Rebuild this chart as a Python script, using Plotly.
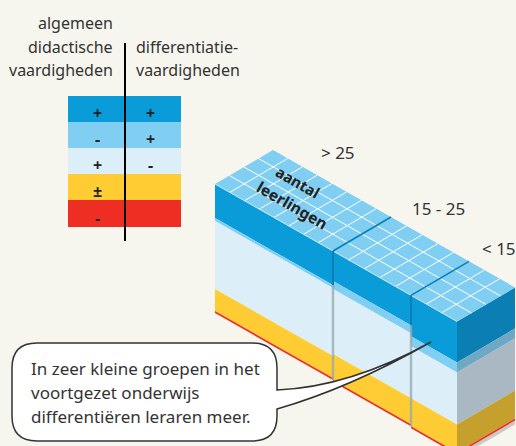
import plotly.graph_objects as go

# ---- data ----
legend_colors = ["#0A9BD9", "#80CFF2", "#DCEEF8", "#FFCD33", "#EF2E23"]
side_colors = ["#0B7FB3", "#6FA8C4", "#A9B8C2", "#C6A02C", "#EF2E23"]
legend_left = ["+", "-", "+", "±", "-"]
legend_right = ["+", "+", "-", "", ""]
left_title = ["algemeen", "didactische", "vaardigheden"]
right_title = ["differentiatie-", "vaardigheden"]

group_labels = ["> 25", "15 - 25", "< 15"]
group_lengths = [118, 78, 46]      # width of each block
group_cells = [8, 5, 3]            # grid cells along each block
depth_cells = 4
# height of the coloured bands in each block
band_blue = [34, 30, 41]
band_light = [3, 8, 10]
band_pale = [68, 65, 52]
band_yellow = [22, 26, 28]
band_red = [2, 2, 2]
callout_lines = ["In zeer kleine groepen in het", "voortgezet onderwijs", "differentiëren leraren meer."]
axis_title = ["aantal", "leerlingen"]

BG = "#F7F6EE"
TXT = "#333333"
FONT = "Noto Sans"

fig = go.Figure()


def poly(xs, ys, color):
    fig.add_trace(go.Scatter(x=xs + xs[:1], y=ys + ys[:1], mode="lines", fill="toself",
                             fillcolor=color, line=dict(width=0), hoverinfo="skip", showlegend=False))


def seg(xs, ys, color, width):
    fig.add_trace(go.Scatter(x=xs, y=ys, mode="lines", line=dict(color=color, width=width),
                             hoverinfo="skip", showlegend=False))


def P(a, d=0.0, drop=0.0):
    return 215 + a + 58 * d, 184 + a * 0.568 - 34 * d + drop


def quad(p1, p2, p3, p4, color):
    poly([p1[0], p2[0], p3[0], p4[0]], [p1[1], p2[1], p3[1], p4[1]], color)


# legend table
row_h = [26, 26, 26, 26, 27]
top = 96
rows = []
for c, h in zip(legend_colors, row_h):
    poly([68, 181, 181, 68], [top, top, top + h, top + h], c)
    rows.append((top, h))
    top += h
seg([125, 125], [43, 241], "#000000", 2)

# blocks
starts = [sum(group_lengths[:i]) for i in range(len(group_lengths))]
total = sum(group_lengths)
bands = list(zip(band_blue, band_light, band_pale, band_yellow, band_red))

# shadow below the side face
last = bands[-1]
h_last = sum(last)
quad(P(total, 0, h_last), P(total, 1, h_last), P(total, 1, h_last + 4), P(total, 0, h_last + 4), "#C9C9C6")

for s, L, b in zip(starts, group_lengths, bands):
    drop = 0
    for h, c in zip(b, legend_colors):
        quad(P(s, 0, drop), P(s + L, 0, drop), P(s + L, 0, drop + h), P(s, 0, drop + h), c)
        drop += h

# side face
drop = 0
for h, c in zip(last, side_colors):
    quad(P(total, 0, drop), P(total, 1, drop), P(total, 1, drop + h), P(total, 0, drop + h), c)
    drop += h

# top face + grid
quad(P(0), P(total), P(total, 1), P(0, 1), legend_colors[1])
for s, L, n in zip(starts, group_lengths, group_cells):
    for i in range(1, n):
        a = s + L * i / n
        p, q = P(a, 0), P(a, 1)
        seg([p[0], q[0]], [p[1], q[1]], "#FFFFFF", 1)
    for j in range(1, depth_cells):
        d = j / depth_cells
        p, q = P(s, d), P(s + L, d)
        seg([p[0], q[0]], [p[1], q[1]], "#FFFFFF", 1)
seg([P(0)[0], P(total)[0]], [P(0)[1], P(total)[1]], "#C8E9F8", 1)

# separators between the blocks
for i in (1, 2):
    a = starts[i]
    p, q = P(a, 0), P(a, 1)
    seg([p[0], q[0]], [p[1], q[1]], side_colors[0], 1.6)
    prev = bands[i - 1]
    seg([p[0], p[0]], [p[1], p[1] + prev[0]], side_colors[0], 2)
    seg([p[0], p[0]], [p[1] + prev[0], p[1] + sum(prev)], "rgba(150,165,175,0.75)", 2.5)

fig.update_xaxes(range=[0, 516], visible=False, fixedrange=True)
fig.update_yaxes(range=[446, 0], visible=False, fixedrange=True)


def label(x, y, text, size=16, anchor="center", color=TXT, angle=0, weight="normal"):
    fig.add_annotation(x=x, y=y, text=text, showarrow=False, xanchor=anchor, yanchor="middle",
                       textangle=angle, font=dict(family=FONT, size=size, color=color, weight=weight))


for t, y in zip(left_title, (23, 47, 70)):
    label(115, y, t, anchor="right")
for t, y in zip(right_title, (47, 70)):
    label(134, y, t, anchor="left")
for (t, h), l, r in zip(rows, legend_left, legend_right):
    label(97, t + h * 0.65, l, size=16, color="#222222", weight="bold")
    label(150, t + h * 0.65, r, size=16, color="#222222", weight="bold")

for t, x, y, a in zip(group_labels, (338, 438, 480), (152, 208, 248), ("center", "center", "left")):
    label(x, y, t, size=17, anchor=a)

label(298, 182, axis_title[0], size=15, color="#222222", angle=30, weight="bold")
label(292, 205, axis_title[1], size=15.5, color="#222222", angle=30, weight="bold")

# callout
path = ("M 37 343 L 252 343 Q 277 343 277 368 L 277 390 Q 350 387 431 342 Q 350 388 277 409 "
        "L 277 416 Q 277 441 252 441 L 37 441 Q 12 441 12 416 L 12 368 Q 12 343 37 343 Z")
fig.add_shape(type="path", path=path, fillcolor="#FFFFFF", line=dict(color="#333333", width=1.5),
              layer="above")
for t, y in zip(callout_lines, (368, 392, 416)):
    label(29, y, t, size=17, anchor="left")

fig.update_layout(width=516, height=446, margin=dict(l=0, r=0, t=0, b=0), autosize=False,
                  paper_bgcolor=BG, plot_bgcolor=BG, showlegend=False)
fig.write_html("out.html", config={"displayModeBar": False, "staticPlot": True},
               post_script="document.body.style.margin='0';document.body.style.background='%s';"
                           "document.documentElement.style.overflow='hidden';" % BG)
